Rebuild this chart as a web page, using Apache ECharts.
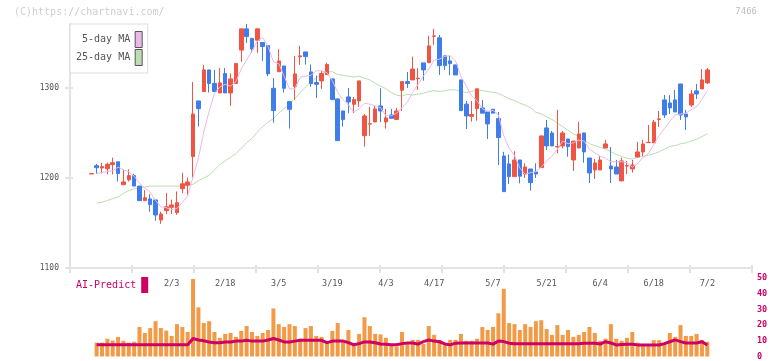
<!DOCTYPE html>
<html>
<head>
<meta charset="utf-8">
<script src="https://cdn.jsdelivr.net/npm/echarts@6/dist/echarts.min.js"></script>
<style>
  html, body { margin: 0; padding: 0; background: #fff; }
  #chart { width: 772px; height: 361px; }
</style>
</head>
<body>
<div id="chart"></div>
<script>
// daily prices, oldest first
const opens = [
  1204.5, 1213.7, 1211.1, 1210.3, 1214.8, 1218, 1192.6, 1198, 1202.6, 1191,
  1174.8, 1176.7, 1175.6, 1153.3, 1163.7, 1167.4, 1161.4, 1188.1, 1192, 1223.7,
  1285.6, 1296, 1320, 1305, 1294.4, 1316, 1294.4, 1305, 1342, 1365.6,
  1355, 1353, 1350.4, 1347, 1299.6, 1318, 1324.4, 1284.8, 1301.5, 1334.5,
  1340, 1317.8, 1306, 1307.8, 1314.8, 1310, 1287.8, 1274.4, 1290, 1281.8,
  1285.6, 1247, 1259.8, 1262.2, 1280, 1262.2, 1270, 1265, 1297.4, 1307,
  1308.9, 1310.3, 1327.8, 1328, 1357.3, 1355.6, 1335.6, 1330, 1325.6, 1308.9,
  1282, 1268.5, 1277, 1277.8, 1273.3, 1276.3, 1266, 1224.4, 1215.6, 1201.5,
  1220, 1204.4, 1210, 1206.7, 1211.5, 1255.6, 1250, 1234.5, 1235.6, 1243.3,
  1220, 1233.3, 1250, 1222.2, 1208.9, 1208.9, 1233.3, 1213.3, 1212.2, 1196.7,
  1213.2, 1210, 1223.3, 1228.9, 1239.2, 1239, 1265, 1286.7, 1283.3, 1286.7,
  1304.4, 1271, 1281, 1296.7, 1298.9, 1305.6
];
const closes = [
  1205, 1211.4, 1212.6, 1215.2, 1217, 1204.8, 1195.6, 1202.6, 1191, 1174.8,
  1178, 1170.4, 1158.9, 1160, 1168, 1170, 1172.6, 1193.5, 1195.6, 1271,
  1277, 1320, 1305, 1296, 1305.6, 1294.4, 1310, 1327, 1365.6, 1357,
  1343.3, 1365.6, 1346, 1315.6, 1274.8, 1330, 1299.6, 1276.3, 1315.6, 1335.6,
  1334.8, 1304.8, 1304, 1316, 1326, 1287, 1241.4, 1264.8, 1284.4, 1287,
  1307.8, 1268.9, 1260.3, 1276.7, 1274.4, 1266.7, 1266.3, 1274.4, 1307, 1305,
  1321, 1310.8, 1320, 1346.7, 1357.8, 1324.8, 1324.8, 1327, 1314.4, 1274.8,
  1268.9, 1270.5, 1299, 1272, 1260, 1272, 1244.8, 1184.8, 1201.5, 1220,
  1202, 1212.2, 1194.8, 1204.4, 1246.7, 1235.6, 1235.6, 1235, 1250, 1234.8,
  1241, 1248.9, 1228.9, 1205.6, 1216.7, 1220, 1237.8, 1210, 1204.4, 1218.9,
  1213.7, 1214.4, 1228.9, 1237.8, 1239.6, 1262, 1265.6, 1270, 1277.8, 1273.3,
  1270, 1267.8, 1293.3, 1293.3, 1308.9, 1320
];
const lows = [
  1204.5, 1204.8, 1205, 1204, 1204, 1196, 1192.6, 1196, 1191, 1174.8,
  1174.8, 1162.6, 1152.6, 1149, 1160, 1160, 1159, 1183, 1181.5, 1200.4,
  1257, 1296, 1295, 1296, 1294.4, 1294.4, 1280, 1305, 1329, 1350,
  1339, 1339, 1330, 1313, 1261.4, 1318, 1294.8, 1254.8, 1286.7, 1325.6,
  1326, 1301.5, 1288.9, 1298.9, 1314.8, 1287, 1241.4, 1257, 1272, 1272,
  1279, 1234.8, 1247, 1262.2, 1262, 1254.8, 1266.3, 1265, 1274.4, 1300,
  1308.9, 1297.8, 1308, 1328, 1347.8, 1314.4, 1320, 1314, 1314.4, 1274.8,
  1254.4, 1262.6, 1263.7, 1272, 1243.3, 1272, 1214.4, 1184.8, 1193.3, 1201.5,
  1194, 1200, 1185.9, 1200, 1211.5, 1231, 1235.6, 1227.4, 1233, 1223.7,
  1207.8, 1233.3, 1217, 1194.4, 1198.9, 1208.9, 1233.3, 1194.4, 1204.4, 1196.7,
  1204.4, 1206, 1223.3, 1224.4, 1239.2, 1239, 1256.7, 1266.7, 1271, 1273.3,
  1264.4, 1253.3, 1278.9, 1287.8, 1298.9, 1304.4
];
const highs = [
  1205, 1215.6, 1217, 1217, 1222.6, 1218, 1209, 1209.6, 1204.8, 1191,
  1186.7, 1182, 1175.6, 1162.6, 1183.5, 1176, 1185, 1205.8, 1200.4, 1306.7,
  1285.6, 1325.6, 1320, 1320, 1322, 1322, 1316, 1328, 1365.6, 1371,
  1355, 1365.6, 1350.4, 1347, 1310.8, 1343, 1324.4, 1285.6, 1335.6, 1346.7,
  1340, 1326, 1313.7, 1319, 1328, 1310, 1287.8, 1274.4, 1300, 1290,
  1307.8, 1271, 1279, 1280, 1299.6, 1276.7, 1276.7, 1277.8, 1307, 1317.8,
  1334.8, 1322, 1327.8, 1358, 1365.6, 1358.9, 1335.6, 1335.6, 1325.6, 1308.9,
  1285.6, 1285.6, 1299, 1286.7, 1273.3, 1276.3, 1273.3, 1229, 1226, 1229.6,
  1220, 1216.3, 1210, 1216.3, 1246.7, 1264.4, 1252.2, 1275.6, 1252.2, 1243.3,
  1241, 1262.2, 1250, 1222.2, 1221, 1224.4, 1242.2, 1234.4, 1220, 1222.6,
  1218.9, 1220, 1240, 1242.2, 1258.9, 1264.4, 1274.4, 1292.2, 1292, 1297.8,
  1304.4, 1275.6, 1297.8, 1304.4, 1321, 1322.2
];

const ma5 = [
  null, 1205, 1206, 1207, 1208, 1212, 1209, 1207, 1202, 1194,
  1189, 1184, 1175, 1168, 1167, 1165, 1166, 1173, 1180, 1201,
  1222, 1251, 1274, 1294, 1301, 1304, 1302, 1307, 1321, 1331,
  1341, 1352, 1356, 1346, 1329, 1327, 1313, 1299, 1299, 1312,
  1313, 1314, 1319, 1319, 1317, 1308, 1295, 1287, 1281, 1273,
  1277, 1283, 1282, 1280, 1278, 1269, 1269, 1272, 1278, 1284,
  1295, 1304, 1313, 1321, 1331, 1332, 1335, 1336, 1330, 1313,
  1302, 1291, 1286, 1277, 1274, 1275, 1270, 1247, 1233, 1225,
  1211, 1204, 1206, 1207, 1212, 1219, 1224, 1232, 1241, 1238,
  1239, 1242, 1241, 1232, 1228, 1224, 1222, 1218, 1218, 1218,
  1217, 1212, 1216, 1223, 1227, 1237, 1247, 1255, 1263, 1270,
  1271, 1272, 1276, 1279, 1287, 1297
];
const ma25 = [
  null, 1172, 1173, 1175, 1177, 1179, 1183, 1186, 1188, 1189,
  1190, 1191, 1191, 1191, 1191, 1191, 1191, 1191, 1192, 1193,
  1197, 1200, 1203, 1209, 1215, 1219, 1223, 1227, 1233, 1239,
  1244, 1251, 1257, 1262, 1266, 1272, 1277, 1282, 1288, 1295,
  1301, 1307, 1311, 1316, 1318, 1318, 1315, 1314, 1313, 1312,
  1313, 1311, 1309, 1305, 1302, 1299, 1295, 1292, 1291, 1293,
  1292, 1293, 1294, 1296, 1297, 1296, 1297, 1298, 1298, 1296,
  1295, 1296, 1298, 1297, 1296, 1295, 1294, 1291, 1288, 1286,
  1283, 1281, 1278, 1273, 1271, 1268, 1265, 1261, 1257, 1253,
  1249, 1246, 1242, 1238, 1236, 1234, 1232, 1229, 1226, 1224,
  1222, 1221, 1223, 1224, 1225, 1227, 1229, 1232, 1235, 1236,
  1238, 1239, 1241, 1243, 1246, 1249
];

const volume = [
  null, 8.8, 8.8, 11.3, 10.2, 12.5, 10, 8.8, 9.4, 18.8,
  15, 18.1, 22.5, 18.1, 16.5, 13.1, 20.6, 18.8, 15.6, 49.4,
  31.3, 21.3, 22.5, 15.6, 11.9, 14.4, 15, 12.5, 16.3, 19.4,
  15.6, 13.1, 15, 16.9, 30.6, 20.6, 18.8, 20.6, 19.4, 11.3,
  18.1, 19.4, 13.1, 12.5, 8.8, 16.3, 21.3, 9.4, 16.9, 7.5,
  14.4, 25, 19.4, 14.4, 14.1, 11.9, 7.5, 6.3, 15.6, 7.9,
  10.6, 10.6, 7.9, 19.4, 13.8, 10.6, 7.3, 10.6, 10.6, 14.4,
  10, 10, 11.3, 18.8, 16.9, 18.8, 27.5, 43.1, 21.3, 20.6,
  16.9, 20.6, 18.8, 22.5, 23.1, 17.5, 13.8, 20, 13.8, 16.9,
  12.5, 13.8, 15.6, 18.8, 15, 10, 11.3, 20.6, 11.3, 10,
  11.9, 15.6, 8.8, 7.5, 7.9, 10.4, 10.4, 7.9, 15, 12.5,
  20, 13.1, 13.1, 14.4, 10.6, 9.4
];
const aiPredict = [
  null, 7.5, 7.5, 7.5, 7.5, 7.5, 7.5, 7.5, 7.5, 7.5,
  7.5, 7.5, 7.5, 7.5, 7.5, 7.5, 7.5, 7.5, 7.5, 11.5,
  10.5, 10, 9.2, 8.8, 8.8, 9.3, 9.3, 9.8, 9.8, 10.3,
  9.8, 9.8, 9.8, 10.5, 11.5, 10.5, 9.3, 9.3, 9.8, 10.3,
  10.3, 10.3, 10.3, 10.3, 8.8, 9.8, 9.8, 9.8, 8.8, 7.5,
  8.2, 9.3, 9.3, 8.8, 8.0, 7.8, 7.5, 7.5, 8.2, 8.6,
  8.6, 7.9, 9.5, 10.5, 9.8, 9.4, 8.0, 7.4, 8.5, 8.6,
  8.6, 8.6, 8.6, 8.6, 8.6, 7.9, 9.8, 9.5, 8.5, 8.1,
  8.1, 8.1, 8.1, 8.1, 8.1, 8.1, 8.1, 8.1, 8.1, 8.1,
  8.1, 8.1, 8.5, 8.5, 8.5, 7.9, 9.4, 8.6, 7.4, 7.6,
  7.8, 7.8, 7.4, 7.3, 7.3, 7.3, 7.3, 8.2, 9.4, 10.6,
  9.5, 8.6, 8.6, 8.6, 9.4, 7.3
];

// date labels and the day they sit on
const labelDates = ['2/3', '2/18', '3/5', '3/19', '4/3', '4/17', '5/7', '5/21', '6/4', '6/18', '7/2'];
const labelIdx = [15, 25, 35, 45, 55, 64, 75, 85, 95, 105, 115];
const priceTicks = [1100, 1200, 1300];

const MONO = '"DejaVu Sans Mono", monospace';
const UP = '#F05543';
const DOWN = '#3F7EEA';
const AXIS = '#E3E3E3';

const days = closes.map((_, i) => 'd' + i);
const labelOf = {};
labelIdx.forEach((d, k) => { labelOf[d] = labelDates[k]; });

const chart = echarts.init(document.getElementById('chart'));

chart.setOption({
  animation: false,
  backgroundColor: '#fff',
  graphic: [
    { type: 'text', left: 14, top: 7, style: { text: '(C)https://chartnavi.com/', fill: '#cfcfcf', font: '10px ' + MONO } },
    { type: 'text', right: 15, top: 7, style: { text: '7466', fill: '#bdbdbd', font: '9px ' + MONO } }
  ],
  legend: [
    {
      data: [
        { name: '5-day MA', itemStyle: { color: '#E9B9EC' } },
        { name: '25-day MA', itemStyle: { color: '#BCDDB0' } }
      ],
      orient: 'vertical', left: 70, top: 24, align: 'right',
      icon: 'rect', itemWidth: 7, itemHeight: 16, itemGap: 1,
      padding: [7, 5, 7, 6],
      borderColor: '#DDDDDD', borderWidth: 1, backgroundColor: '#fff',
      itemStyle: { borderColor: '#555', borderWidth: 1 },
      formatter: (n) => (n === '5-day MA' ? ' ' + n : n),
      textStyle: { fontFamily: MONO, fontSize: 10, color: '#555' },
      selectedMode: false
    },
    {
      data: [{ name: 'AI-Predict', itemStyle: { color: '#CC0066' } }],
      left: 76, top: 277, align: 'right', padding: 0,
      icon: 'rect', itemWidth: 7, itemHeight: 16,
      itemStyle: { borderWidth: 0 },
      textStyle: { fontFamily: MONO, fontSize: 10, color: '#CC0066' },
      selectedMode: false
    }
  ],
  grid: [
    { left: 70, right: 20, top: 24, bottom: 93 },
    { left: 88.6, right: 62, top: 24, bottom: 93 },
    { left: 88.6, right: 62, top: 278, bottom: 3 }
  ],
  xAxis: [
    {
      gridIndex: 0, type: 'value', min: 0, max: 11, interval: 1,
      axisLine: { lineStyle: { color: AXIS, width: 2 } },
      axisTick: { length: 5, lineStyle: { color: AXIS, width: 2 } },
      axisLabel: { show: false }, splitLine: { show: false }
    },
    {
      gridIndex: 0, type: 'value', min: 0, max: 11, interval: 1, position: 'bottom',
      axisLine: { show: false },
      axisTick: { inside: true, length: 3, lineStyle: { color: AXIS, width: 2 } },
      axisLabel: { show: false }, splitLine: { show: false }
    },
    {
      gridIndex: 1, type: 'category', data: days,
      axisLine: { show: false }, axisTick: { show: false },
      axisLabel: {
        interval: 0, margin: 11, fontFamily: MONO, fontSize: 8.5, color: '#555',
        formatter: (v, i) => labelOf[i] || ''
      }
    },
    { gridIndex: 2, type: 'category', data: days, show: false }
  ],
  yAxis: [
    {
      gridIndex: 0, type: 'value', min: 1100, max: 1371, interval: 100,
      axisLine: { show: true, lineStyle: { color: AXIS, width: 2 } },
      axisTick: { show: true, length: 5, customValues: priceTicks, lineStyle: { color: AXIS, width: 2 } },
      axisLabel: {
        margin: 11, customValues: priceTicks, fontFamily: MONO, fontSize: 8, color: '#555',
        formatter: (v) => String(v)
      },
      splitLine: { show: false }
    },
    {
      gridIndex: 0, type: 'value', min: 1100, max: 1371, interval: 100, position: 'left',
      axisLine: { show: false },
      axisTick: { show: true, inside: true, length: 3, customValues: priceTicks, lineStyle: { color: AXIS, width: 2 } },
      axisLabel: { show: false }, splitLine: { show: false }
    },
    { gridIndex: 1, type: 'value', min: 1100, max: 1371, show: false, splitLine: { show: false } },
    {
      gridIndex: 2, type: 'value', min: 0, max: 50, interval: 10, position: 'right', offset: 40,
      axisLine: { show: false }, axisTick: { show: false }, splitLine: { show: false },
      axisLabel: { margin: 7, fontFamily: MONO, fontSize: 8.5, fontWeight: 'bold', color: '#CC0066' }
    }
  ],
  series: [
    {
      name: 'price', type: 'candlestick', xAxisIndex: 2, yAxisIndex: 2,
      data: opens.map((o, i) => [o, closes[i], lows[i], highs[i]]),
      barWidth: 4,
      itemStyle: { color: UP, color0: DOWN, borderColor: UP, borderColor0: DOWN, borderWidth: 1 }
    },
    {
      name: '5-day MA', type: 'line', xAxisIndex: 2, yAxisIndex: 2, data: ma5,
      symbol: 'none', itemStyle: { color: '#E9B9EC' }, lineStyle: { color: '#E9B9EC', width: 1 }, z: 3
    },
    {
      name: '25-day MA', type: 'line', xAxisIndex: 2, yAxisIndex: 2, data: ma25,
      symbol: 'none', itemStyle: { color: '#BCDDB0' }, lineStyle: { color: '#BCDDB0', width: 1 }, z: 1
    },
    {
      name: 'volume', type: 'bar', xAxisIndex: 3, yAxisIndex: 3, data: volume,
      barWidth: 4, itemStyle: { color: '#F29A46' }
    },
    {
      name: 'AI-Predict', type: 'line', xAxisIndex: 3, yAxisIndex: 3, data: aiPredict,
      symbol: 'none', itemStyle: { color: '#CC0066' }, lineStyle: { color: '#CC0066', width: 3 }, z: 3
    }
  ]
});
</script>
</body>
</html>
